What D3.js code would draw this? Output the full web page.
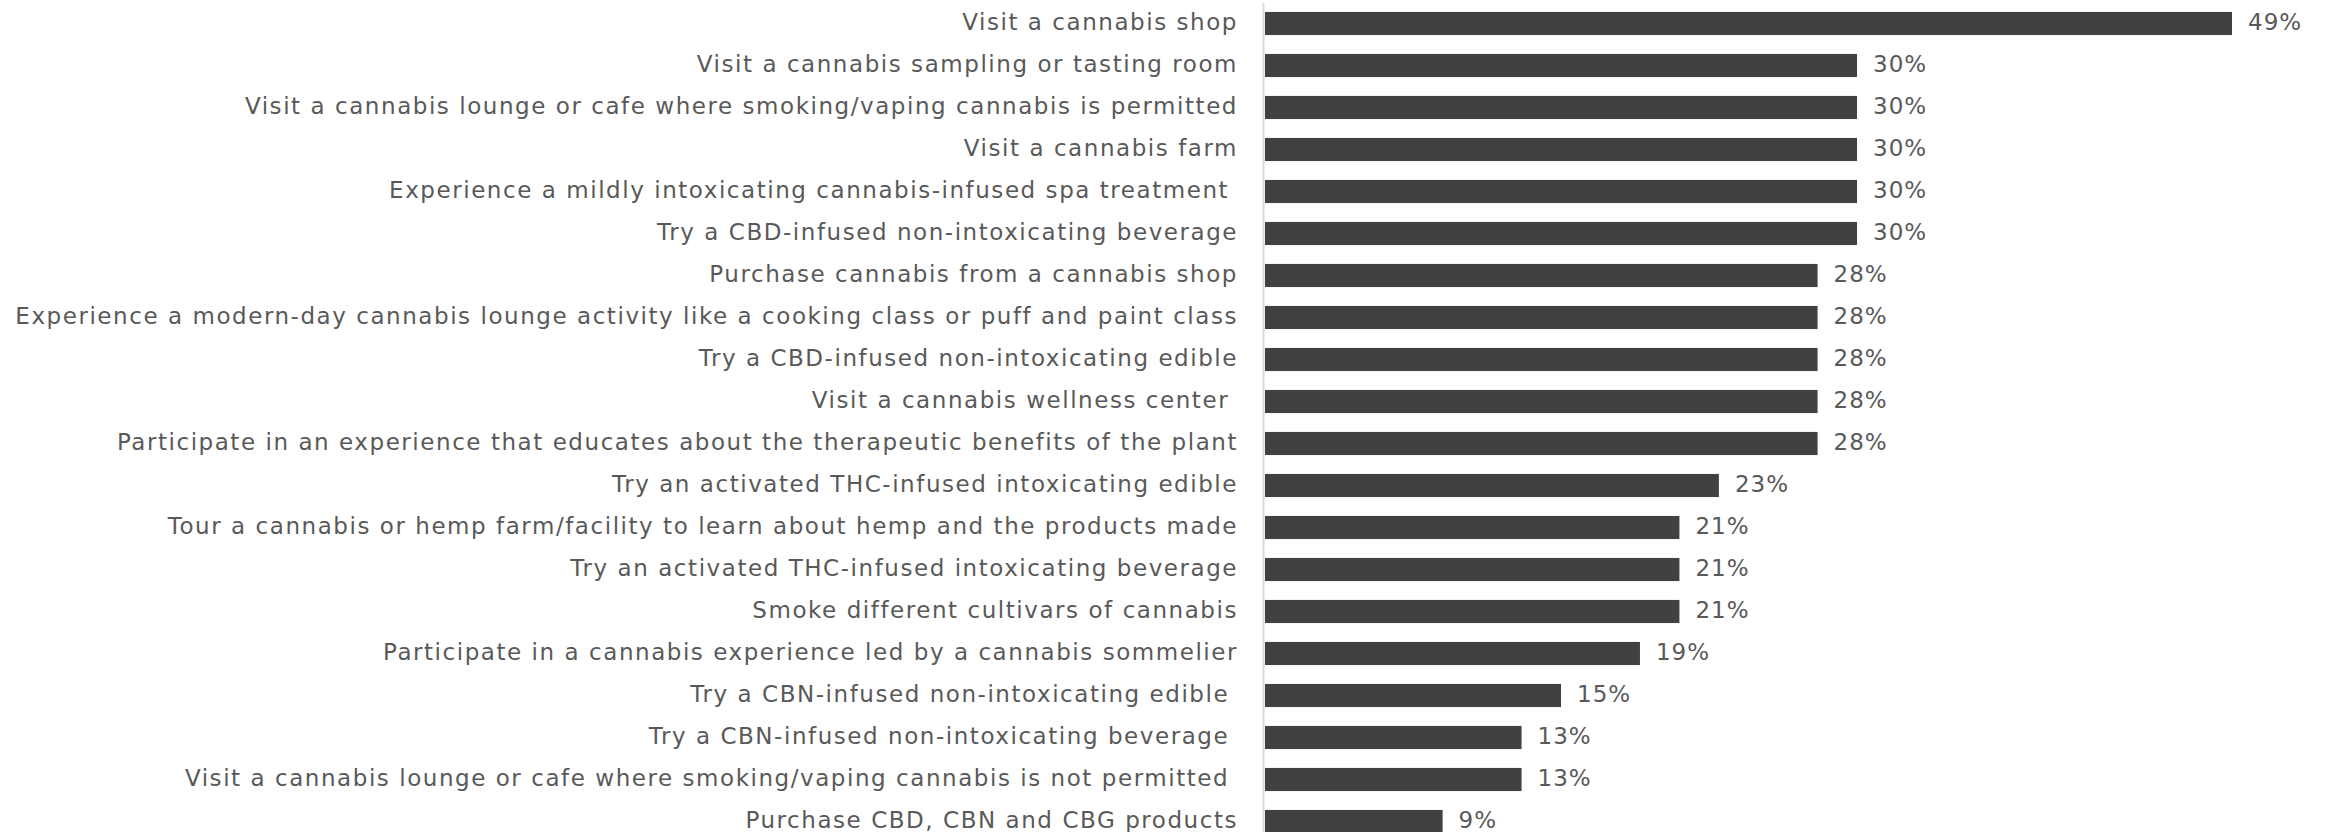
<!DOCTYPE html>
<html>
<head>
<meta charset="utf-8">
<script src="https://cdn.jsdelivr.net/npm/d3@7"></script>
<style>
  html, body { margin: 0; padding: 0; background: #fff; }
  svg { display: block; }
  .axis text { white-space: pre; }
</style>
</head>
<body>
<svg id="chart" width="2328" height="832"></svg>
<script>
// activities, top to bottom
var activities = [
    "Visit a cannabis shop",
    "Visit a cannabis sampling or tasting room",
    "Visit a cannabis lounge or cafe where smoking/vaping cannabis is permitted",
    "Visit a cannabis farm",
    "Experience a mildly intoxicating cannabis-infused spa treatment ",
    "Try a CBD-infused non-intoxicating beverage",
    "Purchase cannabis from a cannabis shop",
    "Experience a modern-day cannabis lounge activity like a cooking class or puff and paint class",
    "Try a CBD-infused non-intoxicating edible",
    "Visit a cannabis wellness center ",
    "Participate in an experience that educates about the therapeutic benefits of the plant",
    "Try an activated THC-infused intoxicating edible",
    "Tour a cannabis or hemp farm/facility to learn about hemp and the products made",
    "Try an activated THC-infused intoxicating beverage",
    "Smoke different cultivars of cannabis",
    "Participate in a cannabis experience led by a cannabis sommelier",
    "Try a CBN-infused non-intoxicating edible ",
    "Try a CBN-infused non-intoxicating beverage ",
    "Visit a cannabis lounge or cafe where smoking/vaping cannabis is not permitted ",
    "Purchase CBD, CBN and CBG products"
]

// percent of respondents
var shares = [49, 30, 30, 30, 30, 30, 28, 28, 28, 28, 28, 23, 21, 21, 21, 19, 15, 13, 13, 9]

var data = activities.map(function(a, i) { return { name: a, value: shares[i] } })

var svg = d3.select("#chart")

var axisX = 1263
var barLeft = 1265
var font = "'DejaVu Sans', sans-serif"

var x = d3.scaleLinear()
    .domain([0, 49])
    .range([barLeft, 2232])

var y = d3.scaleBand()
    .domain(activities)
    .range([2.5, 842.5])
    .paddingInner(0.45)
    .paddingOuter(0.225)

// bars
svg.append("g").selectAll("rect").data(data)
    .enter().append("rect")
    .attr("x", x(0))
    .attr("y", function(d) { return y(d.name) })
    .attr("width", function(d) { return x(d.value) - x(0) })
    .attr("height", y.bandwidth())
    .attr("fill", "#414141")

// value labels
svg.append("g").selectAll("text").data(data)
    .enter().append("text")
    .attr("x", function(d) { return x(d.value) + 16 })
    .attr("y", function(d) { return y(d.name) + y.bandwidth() / 2 })
    .attr("dy", "0.3em")
    .style("font-family", font)
    .style("font-size", "23px")
    .style("letter-spacing", "1px")
    .style("fill", "#595959")
    .text(function(d) { return d.value + "%" })

// category axis
var axis = svg.append("g")
    .attr("class", "axis")
    .attr("transform", "translate(" + axisX + ",0)")
    .call(d3.axisLeft(y).tickSize(0).tickSizeOuter(0).tickPadding(25))

axis.select(".domain")
    .attr("stroke", "#d9d9d9")
    .attr("stroke-width", 2)

axis.selectAll("text")
    .attr("xml:space", "preserve")
    .attr("dy", "0.28em")
    .style("font-family", font)
    .style("font-size", "23px")
    .style("letter-spacing", "1.55px")
    .style("fill", "#595959")
</script>
</body>
</html>
